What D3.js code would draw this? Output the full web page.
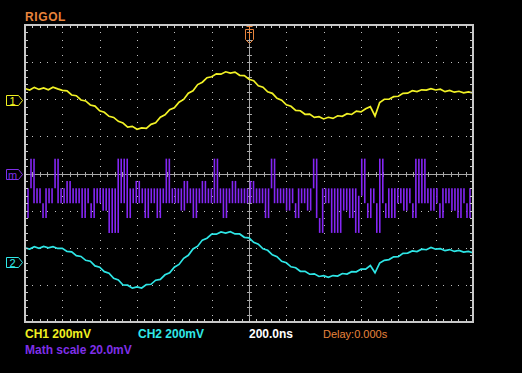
<!DOCTYPE html>
<html>
<head>
<meta charset="utf-8">
<script src="https://cdn.jsdelivr.net/npm/d3@7"></script>
<style>
  html, body { margin: 0; padding: 0; background: #000; }
  svg { display: block; font-family: "Liberation Sans", Arial, sans-serif; }
</style>
</head>
<body>
<div id="node"></div>
<script>
// time base: 200ns/div, 12 divisions, trigger at center
const timeSpanNs = [-1200, 1200];
const chStepNs = 25;      // sample spacing of the channel traces
const mathStepNs = 2400 / 149;

// CH1, 200mV/div (mV)
const ch1 = [62, 54, 68, 57, 65, 55, 69, 60, 52, 49, 27, 23, 0, -5, -27, -33, -58, -66, -88, -94,
  -115, -124, -146, -142, -158, -150, -153, -131, -123, -93, -80, -52, -42, -12, 3, 37, 50, 83, 96, 120,
  125, 141, 139, 152, 145, 150, 133, 131, 112, 104, 77, 69, 44, 36, 9, -1, -26, -34, -56, -58,
  -77, -76, -94, -90, -102, -93, -99, -85, -88, -74, -78, -60, -64, -47, -36, -86, -14, 4, 4, 18,
  20, 36, 37, 50, 45, 55, 53, 61, 54, 58, 45, 52, 42, 47, 39, 44, 38];

// CH2, 200mV/div (mV)
const ch2 = [76, 70, 82, 74, 84, 76, 83, 73, 74, 57, 55, 34, 30, 9, 4, -21, -28, -52, -60, -88,
  -97, -124, -125, -141, -134, -140, -122, -120, -98, -94, -69, -58, -28, -13, 20, 36, 70, 85, 118, 128,
  150, 150, 162, 156, 163, 151, 151, 133, 130, 106, 96, 71, 63, 39, 29, 4, -4, -26, -31, -50,
  -50, -66, -64, -78, -74, -83, -73, -76, -62, -65, -52, -53, -38, -38, -19, -58, -6, 9, 13, 28,
  29, 47, 48, 60, 56, 69, 66, 78, 69, 72, 61, 67, 57, 62, 53, 57, 50];

// Math, 20.0mV/div (mV)
const mathTrace = [-24, -8, 8, -16, -8, -16, -24, -8, -16, -8, 8, -16, -8, -16, -4, -16, -8, -16, -8, -24,
  -8, -16, -24, -8, -16, -8, -20, -8, -32, -8, -32, 8, -16, 8, -24, -8, -16, -4, -16, -8,
  -24, -8, -16, -8, -24, -8, -16, 8, -16, -8, -16, -8, -20, -4, -16, -8, -24, -8, -16, -4,
  -16, -8, -16, 8, -16, -8, -24, -8, -16, -4, -16, -8, -16, -8, -16, -4, -16, -8, -16, -8,
  -24, -8, 8, -16, -8, -16, -8, -20, -8, -16, -24, -8, -16, -8, -20, -8, 8, -24, -32, -8,
  -16, -8, -32, -8, -32, -8, -20, -8, -24, -8, -32, -12, 8, -16, -24, -8, -16, -32, 8, -16,
  -24, -8, -24, -8, -16, -8, -20, -8, -16, -24, 8, -16, 8, -16, -8, -20, -8, -16, -24, -8,
  -16, -8, -20, -8, -24, -8, -16, -24, -8, -16];

const labels = [
  { text: "CH1 200mV", color: "#f0f020", x: 25, y: 338, weight: "bold", size: 12 },
  { text: "CH2 200mV", color: "#30e8e8", x: 138, y: 338, weight: "bold", size: 12 },
  { text: "200.0ns", color: "#ffffff", x: 249, y: 338, weight: "bold", size: 12 },
  { text: "Delay:0.000s", color: "#e8843c", x: 323, y: 338, weight: "normal", size: 11 },
  { text: "Math scale 20.0mV", color: "#7f2fe8", x: 25, y: 354, weight: "bold", size: 12 }
];

const W = 522, H = 373;
const gLeft = 25, gRight = 473, gTop = 25, gBottom = 322;
const divH = (gBottom - gTop) / 8;

const svg = d3.select("#node").append("svg")
  .attr("width", W).attr("height", H)
  .style("background", "#000");

const x = d3.scaleLinear().domain(timeSpanNs).range([gLeft, gRight]);
const gx = d3.scaleLinear().domain([0, 12]).range([gLeft, gRight]);
const gy = d3.scaleLinear().domain([0, 8]).range([gTop, gBottom]);

// vertical position of each trace: ground marker + volts/div
const y1 = d3.scaleLinear().domain([0, 200]).range([100, 100 - divH]);
const y2 = d3.scaleLinear().domain([0, 200]).range([262, 262 - divH]);
const yM = d3.scaleLinear().domain([0, 20]).range([173.5, 173.5 - divH]);

// grid dots
const grid = svg.append("g").attr("fill", "#c0c0c0");
for (let i = 1; i < 12; i++) {
  if (i === 6) continue;
  for (let j = 1; j < 40; j++) {
    grid.append("rect").attr("x", Math.round(gx(i))).attr("y", Math.round(gy(j / 5)))
      .attr("width", 1).attr("height", 1);
  }
}
for (let j = 1; j < 8; j++) {
  if (j === 4) continue;
  for (let i = 1; i < 60; i++) {
    grid.append("rect").attr("x", Math.round(gx(i / 5))).attr("y", Math.round(gy(j)))
      .attr("width", 1).attr("height", 1);
  }
}

// center crosshair with minor ticks
const cross = svg.append("g").attr("stroke", "#a8a8a8").attr("stroke-width", 1);
cross.append("line").attr("x1", gLeft).attr("x2", gRight)
  .attr("y1", Math.round(gy(4)) + 0.5).attr("y2", Math.round(gy(4)) + 0.5);
cross.append("line").attr("y1", gTop).attr("y2", gBottom)
  .attr("x1", Math.round(gx(6)) + 0.5).attr("x2", Math.round(gx(6)) + 0.5);
for (let i = 1; i < 60; i++) {
  const xx = Math.round(gx(i / 5)) + 0.5;
  cross.append("line").attr("x1", xx).attr("x2", xx)
    .attr("y1", Math.round(gy(4)) - 2).attr("y2", Math.round(gy(4)) + 3);
}
for (let j = 1; j < 40; j++) {
  const yy = Math.round(gy(j / 5)) + 0.5;
  cross.append("line").attr("y1", yy).attr("y2", yy)
    .attr("x1", Math.round(gx(6)) - 2).attr("x2", Math.round(gx(6)) + 3);
}

// traces
const tCh = ch1.map((d, i) => timeSpanNs[0] + i * chStepNs);
const tMath = mathTrace.map((d, i) => timeSpanNs[0] + i * mathStepNs);

// math drawn the scope way: a vertical stroke per sample from previous value to this one
svg.append("g")
  .attr("stroke", "#8426f4")
  .attr("stroke-width", 1.6)
  .selectAll("line")
  .data(mathTrace.slice(1))
  .enter()
  .append("line")
  .attr("x1", (d, i) => x(tMath[i + 1]))
  .attr("x2", (d, i) => x(tMath[i + 1]))
  .attr("y1", (d, i) => yM(mathTrace[i]))
  .attr("y2", d => yM(d));

svg.append("path")
  .datum(ch2)
  .attr("fill", "none")
  .attr("stroke", "#2ee6e6")
  .attr("stroke-width", 1.7)
  .attr("d", d3.line().x((d, i) => x(tCh[i])).y(d => y2(d)));

svg.append("path")
  .datum(ch1)
  .attr("fill", "none")
  .attr("stroke", "#f2f226")
  .attr("stroke-width", 1.7)
  .attr("d", d3.line().x((d, i) => x(tCh[i])).y(d => y1(d)));

// frame with ticks
const frame = svg.append("g").attr("stroke", "#c8c8c8");
frame.append("rect").attr("x", gLeft).attr("y", gTop)
  .attr("width", gRight - gLeft).attr("height", gBottom - gTop)
  .attr("fill", "none").attr("stroke-width", 2);
for (let i = 1; i < 60; i++) {
  const xx = Math.round(gx(i / 5)) + 0.5;
  frame.append("line").attr("x1", xx).attr("x2", xx).attr("y1", gTop).attr("y2", gTop + 3);
  frame.append("line").attr("x1", xx).attr("x2", xx).attr("y1", gBottom - 3).attr("y2", gBottom);
}
for (let j = 1; j < 40; j++) {
  const yy = Math.round(gy(j / 5)) + 0.5;
  frame.append("line").attr("y1", yy).attr("y2", yy).attr("x1", gLeft).attr("x2", gLeft + 3);
  frame.append("line").attr("y1", yy).attr("y2", yy).attr("x1", gRight - 3).attr("x2", gRight);
}

// channel markers on the left
const markers = [
  { label: "1", color: "#f0f020", y: y1(0) },
  { label: "m", color: "#7f2fe8", y: yM(0) },
  { label: "2", color: "#30e8e8", y: y2(0) }
];
markers.forEach(m => {
  const cy = Math.round(m.y) + 0.5;
  svg.append("path")
    .attr("d", `M6.5,${cy - 5} L18.5,${cy - 5} L22.5,${cy} L18.5,${cy + 5} L6.5,${cy + 5} Z`)
    .attr("fill", "none").attr("stroke", m.color).attr("stroke-width", 1);
  svg.append("text").attr("x", 12.5).attr("y", cy + 4)
    .attr("text-anchor", "middle").attr("fill", m.color)
    .attr("font-size", 11).text(m.label);
});

// trigger position marker
const tx = Math.round(x(0)) + 0.5;
const trig = svg.append("g").attr("stroke", "#e8843c").attr("fill", "none").attr("stroke-width", 1);
trig.append("path").attr("d", `M${tx - 4},29.5 L${tx + 4},29.5 L${tx + 4},39.5 L${tx},43.5 L${tx - 4},39.5 Z`);
trig.append("path").attr("d", `M${tx - 2.5},32.5 L${tx + 2.5},32.5 M${tx},32.5 L${tx},39`);
trig.append("path").attr("d", `M${tx - 3},26.5 L${tx + 3},26.5 M${tx},26.5 L${tx},29`);

// header and status text
svg.append("text").attr("x", 25).attr("y", 21)
  .attr("fill", "#e8843c").attr("font-size", 12).attr("font-weight", "bold")
  .attr("letter-spacing", 0.6).text("RIGOL");

svg.selectAll("text.status").data(labels).enter().append("text")
  .attr("class", "status")
  .attr("x", d => d.x).attr("y", d => d.y)
  .attr("fill", d => d.color)
  .attr("font-size", d => d.size)
  .attr("font-weight", d => d.weight)
  .text(d => d.text);
</script>
</body>
</html>
